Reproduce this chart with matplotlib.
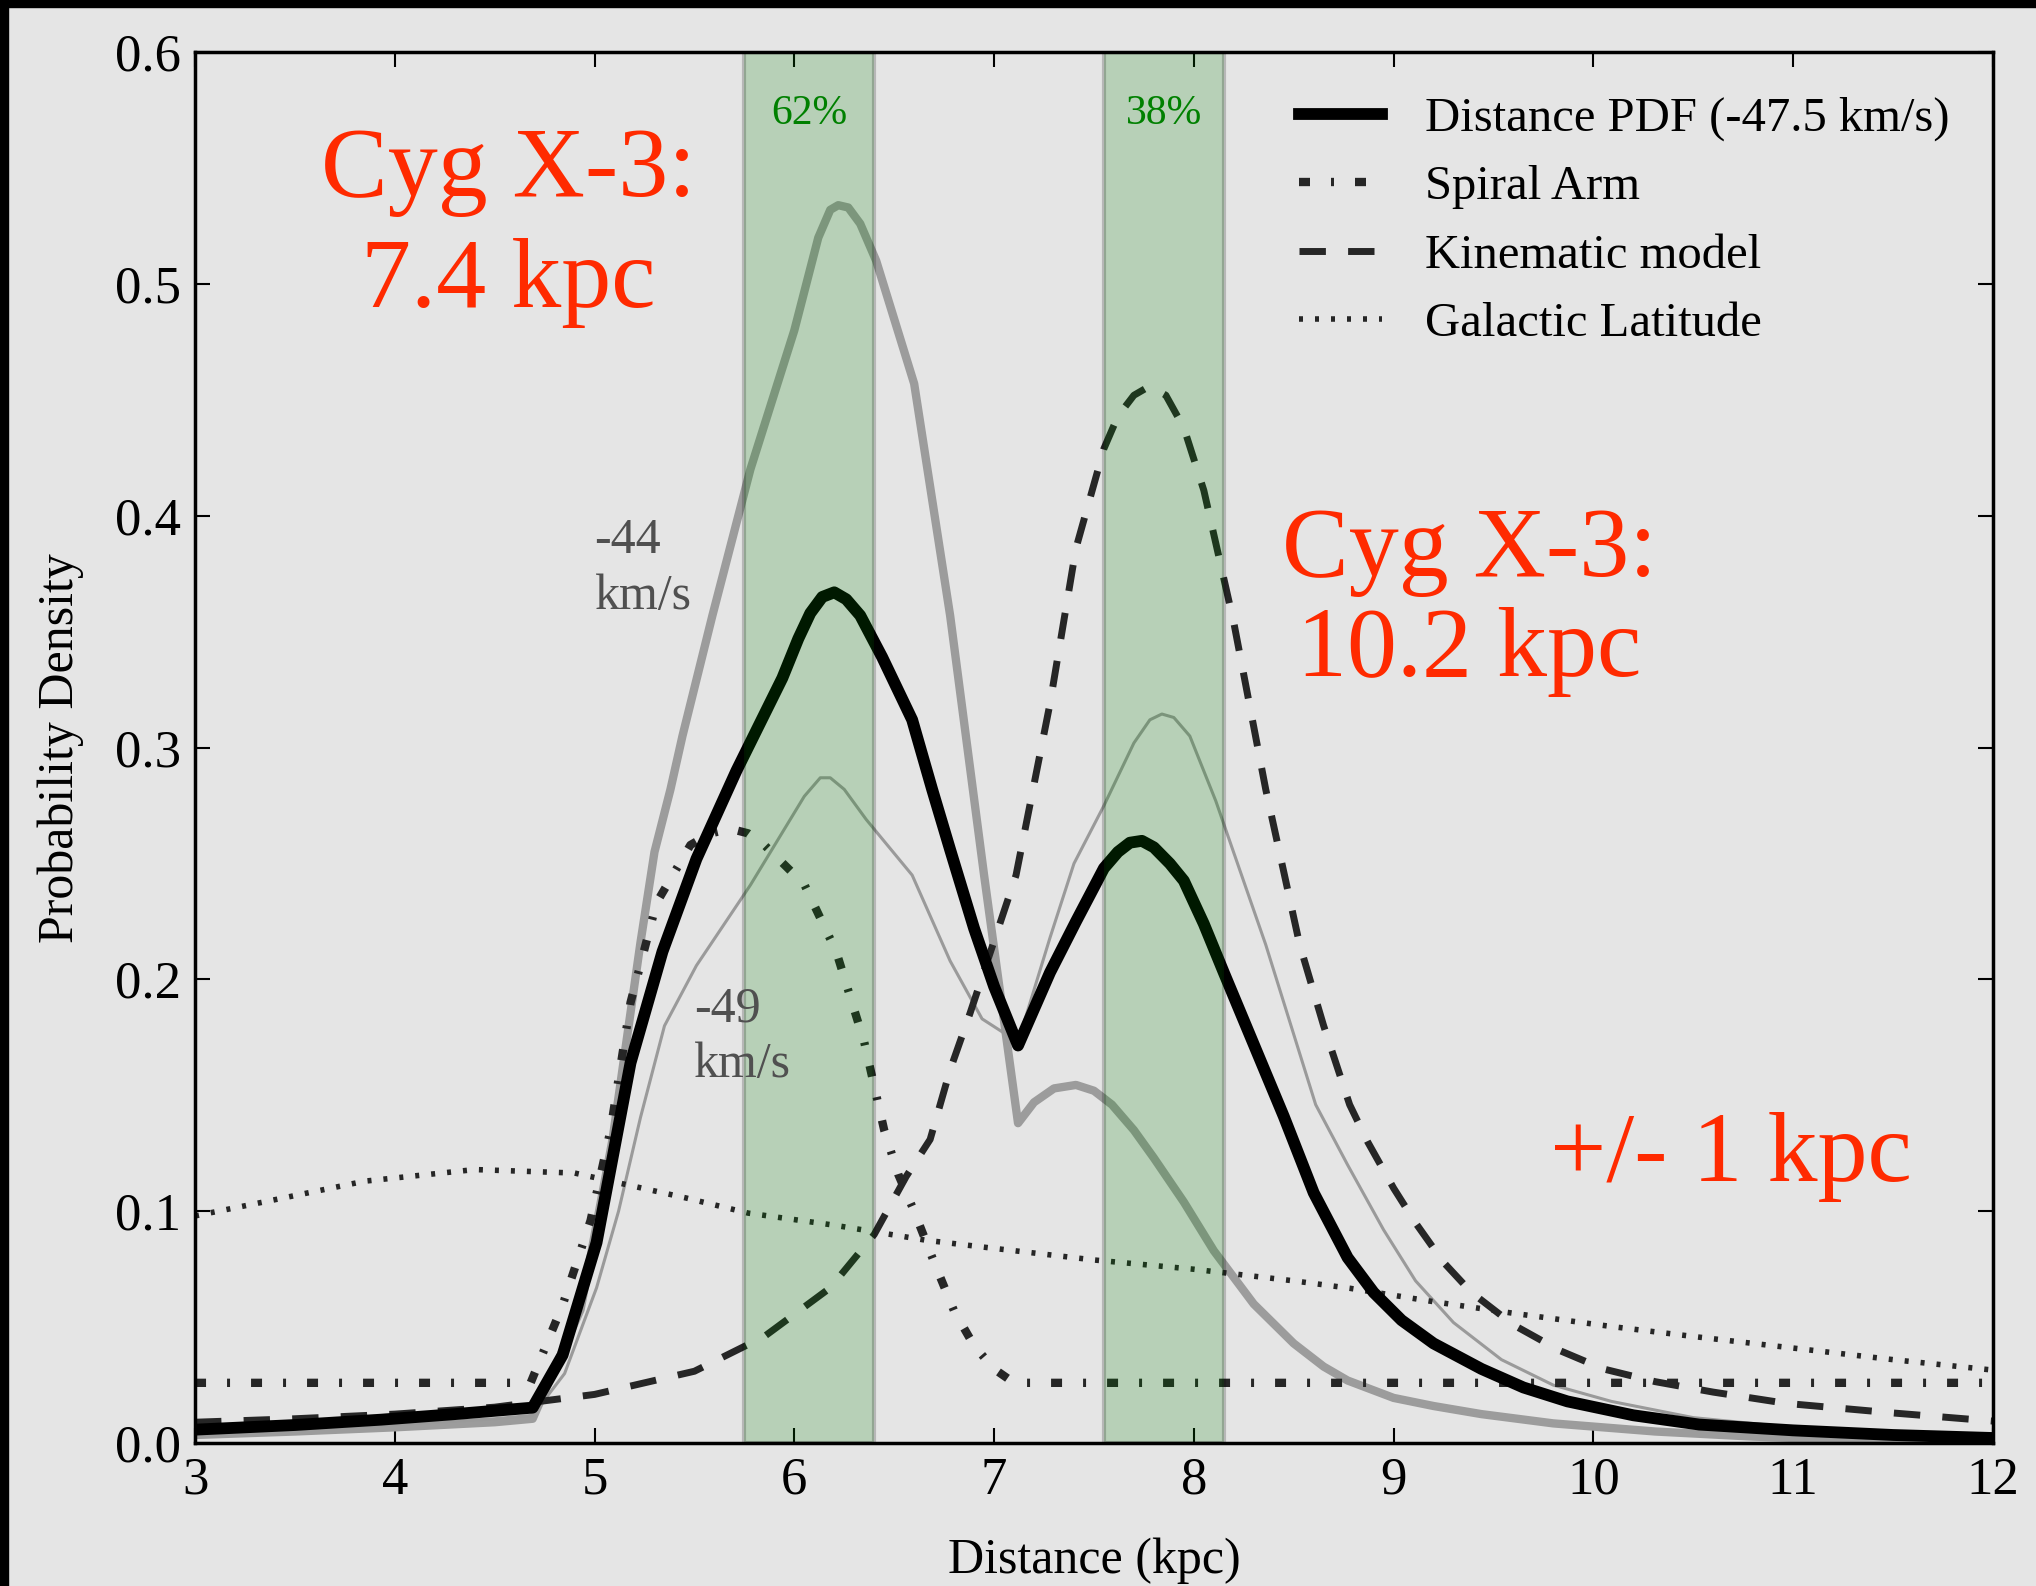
import matplotlib
matplotlib.use("Agg")
import matplotlib.pyplot as plt
from matplotlib.patches import Rectangle

plt.rcParams['font.family'] = ['Liberation Serif', 'DejaVu Serif']

# ---- data (distance in kpc, probability density) ----
pdf_x = [3.0, 3.5, 3.93, 4.3, 4.69, 4.84, 5.01, 5.18, 5.23, 5.34, 5.51, 5.71, 5.94, 6.02, 6.08,
         6.14, 6.2, 6.26, 6.33, 6.44, 6.59, 6.69, 6.78, 6.9, 7.0, 7.12, 7.28, 7.41, 7.55, 7.62,
         7.68, 7.74, 7.8, 7.88, 7.95, 8.05, 8.15, 8.3, 8.45, 8.6, 8.77, 8.9, 9.04, 9.2, 9.44,
         9.65, 9.87, 10.2, 10.53, 11.0, 11.5, 12.0]
pdf_y = [0.0058, 0.0078, 0.0101, 0.0125, 0.0153, 0.038, 0.0865, 0.164, 0.179, 0.212, 0.252, 0.29,
         0.33, 0.347, 0.358, 0.365, 0.367, 0.364, 0.357, 0.339, 0.312, 0.282, 0.256, 0.222, 0.197,
         0.1715, 0.203, 0.225, 0.248, 0.255, 0.259, 0.2598, 0.257, 0.25, 0.2426, 0.224, 0.203,
         0.172, 0.141, 0.108, 0.08, 0.065, 0.053, 0.043, 0.032, 0.024, 0.018, 0.012, 0.008,
         0.0055, 0.0035, 0.0022]

v44_x = [3.0, 3.5, 4.0, 4.5, 4.69, 4.93, 5.09, 5.23, 5.3, 5.38, 5.44, 5.59, 5.78, 6.0, 6.12,
         6.18, 6.22, 6.27, 6.33, 6.41, 6.6, 6.78, 6.95, 7.12, 7.2, 7.3, 7.41, 7.5, 7.59, 7.7,
         7.8, 7.95, 8.1, 8.3, 8.5, 8.65, 8.77, 9.0, 9.2, 9.44, 9.8, 10.31, 10.8, 11.25, 12.0]
v44_y = [0.0035, 0.005, 0.0068, 0.009, 0.0105, 0.0576, 0.131, 0.216, 0.255, 0.282, 0.305, 0.357,
         0.42, 0.48, 0.52, 0.532, 0.534, 0.533, 0.526, 0.51, 0.457, 0.357, 0.245, 0.138, 0.147,
         0.153, 0.1545, 0.152, 0.146, 0.135, 0.123, 0.104, 0.083, 0.06, 0.043, 0.033, 0.027,
         0.0195, 0.016, 0.0125, 0.0085, 0.005, 0.0028, 0.0015, 0.0006]

v49_x = [3.0, 3.5, 4.0, 4.5, 4.69, 4.85, 5.01, 5.12, 5.23, 5.35, 5.51, 5.78, 6.05, 6.13, 6.18,
         6.25, 6.36, 6.59, 6.78, 6.94, 7.03, 7.12, 7.28, 7.4, 7.55, 7.7, 7.78, 7.84, 7.9, 7.98,
         8.11, 8.36, 8.61, 8.77, 8.95, 9.11, 9.3, 9.54, 9.8, 10.09, 10.5, 10.97, 11.5, 12.0]
v49_y = [0.004, 0.006, 0.008, 0.0105, 0.012, 0.03, 0.067, 0.1, 0.1405, 0.18, 0.206, 0.2407,
         0.279, 0.287, 0.287, 0.282, 0.269, 0.245, 0.208, 0.183, 0.178, 0.173, 0.218, 0.25, 0.275,
         0.302, 0.312, 0.3145, 0.313, 0.305, 0.277, 0.215, 0.146, 0.12, 0.092, 0.07, 0.052,
         0.036, 0.025, 0.018, 0.011, 0.007, 0.004, 0.002]

arm_x = [3.0, 4.68, 4.84, 4.98, 5.08, 5.18, 5.31, 5.48, 5.58, 5.68, 5.77, 5.85, 6.05, 6.21,
         6.35, 6.45, 6.52, 6.6, 6.7, 6.8, 6.9, 7.0, 7.1, 12.0]
arm_y = [0.026, 0.026, 0.0595, 0.096, 0.135, 0.19, 0.233, 0.258, 0.263, 0.265, 0.263, 0.258,
         0.241, 0.212, 0.173, 0.135, 0.116, 0.1, 0.078, 0.057, 0.042, 0.032, 0.026, 0.026]

kin_x = [3.0, 3.5, 4.0, 4.5, 5.0, 5.5, 5.85, 6.18, 6.4, 6.56, 6.68, 6.78, 6.88, 7.11, 7.28,
         7.41, 7.55, 7.62, 7.7, 7.78, 7.86, 7.95, 8.05, 8.2, 8.36, 8.53, 8.65, 8.78, 8.87, 9.0,
         9.11, 9.25, 9.39, 9.6, 9.83, 10.05, 10.31, 10.6, 10.97, 11.5, 12.0]
kin_y = [0.009, 0.0105, 0.0125, 0.0155, 0.021, 0.031, 0.046, 0.067, 0.09, 0.115, 0.131, 0.161,
         0.1855, 0.245, 0.319, 0.386, 0.429, 0.443, 0.452, 0.456, 0.452, 0.438, 0.411, 0.354,
         0.282, 0.215, 0.18, 0.146, 0.13, 0.11, 0.095, 0.078, 0.065, 0.051, 0.04, 0.032, 0.0265,
         0.022, 0.0171, 0.013, 0.0095]

lat_x = [3.0, 3.4, 3.85, 4.4, 4.9, 5.46, 5.77, 6.2, 6.66, 7.0, 7.5, 8.0, 8.5, 8.78, 9.2, 9.6,
         10.09, 10.5, 11.0, 11.5, 12.0]
lat_y = [0.098, 0.105, 0.113, 0.118, 0.1165, 0.1057, 0.0992, 0.094, 0.0875, 0.084, 0.079, 0.075,
         0.07, 0.0668, 0.061, 0.056, 0.0503, 0.046, 0.041, 0.036, 0.0315]

bands = [(5.75, 6.4), (7.55, 8.15)]
band_labels = ['62%', '38%']

bg = '#e5e5e5'
red = '#ff2a00'

fig = plt.figure(figsize=(20.36, 15.86), dpi=100, facecolor=bg)
ax = fig.add_axes([0.0958, 0.0901, 0.883, 0.877], facecolor=bg)

# thin black frame on top / left edge of the picture
fig.patches.append(Rectangle((0, 1 - 7 / 1586), 1, 7 / 1586, transform=fig.transFigure,
                             color='black', zorder=10))
fig.patches.append(Rectangle((0, 0), 8 / 2036, 1, transform=fig.transFigure,
                             color='black', zorder=10))

ax.plot(v44_x, v44_y, color='#9c9c9c', lw=6, zorder=2, solid_joinstyle='round')
ax.plot(v49_x, v49_y, color='#9a9a9a', lw=2.2, zorder=2, solid_joinstyle='round')
ax.plot(lat_x, lat_y, color='#262626', lw=4, ls=(0, (0.72, 2.16)), zorder=3,
        label='Galactic Latitude')
ax.plot(arm_x, arm_y, color='#262626', lw=6, ls=(0, (1.32, 2.52, 0.36, 2.52)), zorder=3,
        label='Spiral Arm')
ax.plot(kin_x, kin_y, color='#262626', lw=5, ls=(0, (3.8, 3.2)), zorder=3,
        label='Kinematic model')
ax.plot(pdf_x, pdf_y, color='black', lw=8.5, zorder=4, solid_joinstyle='round',
        label='Distance PDF (-47.5 km/s)')

for (lo, hi), lab in zip(bands, band_labels):
    ax.axvspan(lo, hi, facecolor=(0, 0.5, 0, 0.2), edgecolor=(0, 0, 0, 0.2), lw=3, zorder=5)
    ax.text((lo + hi) / 2, 0.569, lab, color='green', fontsize=30, ha='center',
            va='baseline', zorder=6)

# annotations
ax.text(4.57, 0.538, 'Cyg X-3:', color=red, fontsize=72, ha='center', va='baseline', zorder=6)
ax.text(4.57, 0.49, '7.4 kpc', color=red, fontsize=72, ha='center', va='baseline', zorder=6)
ax.text(9.38, 0.374, 'Cyg X-3:', color=red, fontsize=72, ha='center', va='baseline', zorder=6)
ax.text(9.38, 0.331, '10.2 kpc', color=red, fontsize=72, ha='center', va='baseline', zorder=6)
ax.text(10.69, 0.113, '+/- 1 kpc', color=red, fontsize=72, ha='center', va='baseline', zorder=6)

ax.text(5.0, 0.384, '-44', color='#505050', fontsize=36, ha='left', va='baseline', zorder=6)
ax.text(5.0, 0.360, 'km/s', color='#505050', fontsize=36, ha='left', va='baseline', zorder=6)
ax.text(5.5, 0.182, '-49', color='#505050', fontsize=36, ha='left', va='baseline', zorder=6)
ax.text(5.5, 0.158, 'km/s', color='#505050', fontsize=36, ha='left', va='baseline', zorder=6)

ax.set_xlim(3, 12)
ax.set_ylim(0, 0.6)
ax.set_xticks(range(3, 13))
ax.set_yticks([0.0, 0.1, 0.2, 0.3, 0.4, 0.5, 0.6])
ax.set_yticklabels(['0.0', '0.1', '0.2', '0.3', '0.4', '0.5', '0.6'])
ax.tick_params(direction='in', length=11, width=1.5, labelsize=38, top=True, right=True,
               pad=10)
for s in ax.spines.values():
    s.set_linewidth(2.5)
    s.set_zorder(7)

ax.set_xlabel('Distance (kpc)', fontsize=36)
ax.set_ylabel('Probability Density', fontsize=36)
ax.xaxis.set_label_coords(0.5, -0.068)
ax.yaxis.set_label_coords(-0.062, 0.5)

handles, labels = ax.get_legend_handles_labels()
order = [3, 1, 2, 0]
ax.legend([handles[i] for i in order], [labels[i] for i in order], loc='upper left',
          bbox_to_anchor=(0.614, 0.968), frameon=False, fontsize=35, borderpad=0,
          borderaxespad=0, handlelength=1.7, handletextpad=0.9, labelspacing=0.5)

fig.savefig('out.png', dpi=100, facecolor=bg)
